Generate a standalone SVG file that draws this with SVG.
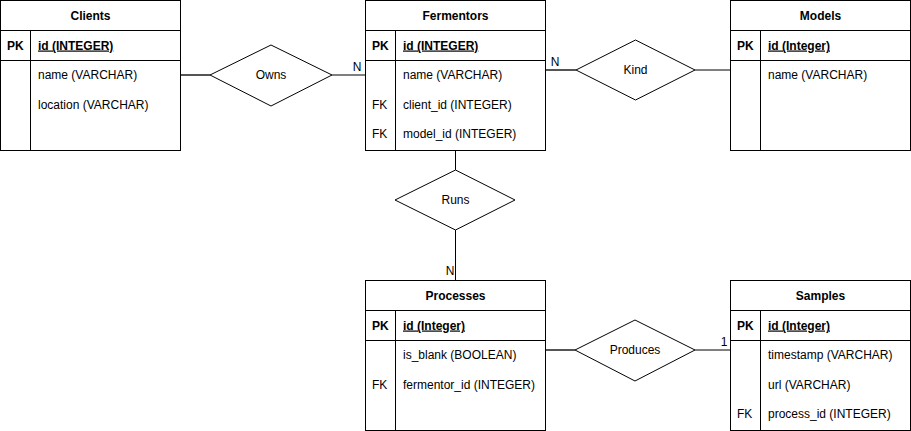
<svg xmlns="http://www.w3.org/2000/svg" width="911" height="431" viewBox="0 0 911 431">
<style>
text{font-family:"Liberation Sans",Arial,sans-serif;font-size:12px;fill:#000}
.t{font-weight:bold;text-anchor:middle}
.pk{font-weight:bold}
.id{font-weight:bold;text-decoration:underline}
.box{fill:#fff;stroke:#000;stroke-width:1}
.ln{stroke:#000;stroke-width:1;fill:none}
.thick{stroke:#555;stroke-width:2;fill:none}
.c{text-anchor:middle}
</style>
<rect width="911" height="431" fill="#fff"/>
<g id="connectors">
<line class="thick" x1="181" y1="75" x2="210" y2="75"/>
<line class="ln" x1="332" y1="75" x2="365" y2="75"/>
<text x="357" y="71" class="c">N</text>
<line class="thick" x1="546" y1="70" x2="576" y2="70"/>
<line class="ln" x1="695" y1="70" x2="730" y2="70"/>
<text x="555" y="66" class="c">N</text>
<line class="ln" x1="455.5" y1="151" x2="455.5" y2="170"/>
<line class="ln" x1="455.5" y1="230" x2="455.5" y2="280"/>
<text x="450" y="275" class="c">N</text>
<line class="thick" x1="546" y1="350" x2="575" y2="350"/>
<line class="ln" x1="695" y1="350" x2="730" y2="350"/>
<text x="724" y="346" class="c">1</text>
</g>
<g id="owns">
<polygon class="box" points="210,75 271,45 332,75 271,106"/>
<text x="271" y="79" class="c">Owns</text>
</g>
<g id="kind">
<polygon class="box" points="576,70 635.5,40 695,70 635.5,100"/>
<text x="635.5" y="74" class="c">Kind</text>
</g>
<g id="runs">
<polygon class="box" points="395,200 455.5,170 515,200 455.5,230"/>
<text x="455.5" y="204" class="c">Runs</text>
</g>
<g id="produces">
<polygon class="box" points="575,350 635,320 695,350 635,381"/>
<text x="635" y="354" class="c">Produces</text>
</g>
<g id="clients">
<rect class="box" x="0.5" y="0.5" width="180" height="150"/>
<line class="ln" x1="0.5" y1="30.5" x2="180.5" y2="30.5"/>
<line class="ln" x1="0.5" y1="60.5" x2="180.5" y2="60.5"/>
<line class="ln" x1="30.5" y1="30.5" x2="30.5" y2="150.5"/>
<text x="90.5" y="19.5" class="t">Clients</text>
<text x="7" y="49.5" class="pk">PK</text>
<text x="38" y="49.5" class="id">id (INTEGER)</text>
<text x="38" y="79">name (VARCHAR)</text>
<text x="38" y="108.5">location (VARCHAR)</text>
</g>
<g id="fermentors">
<rect class="box" x="365.5" y="0.5" width="180" height="150"/>
<line class="ln" x1="365.5" y1="30.5" x2="545.5" y2="30.5"/>
<line class="ln" x1="365.5" y1="60.5" x2="545.5" y2="60.5"/>
<line class="ln" x1="395.5" y1="30.5" x2="395.5" y2="150.5"/>
<text x="455.5" y="19.5" class="t">Fermentors</text>
<text x="372" y="49.5" class="pk">PK</text>
<text x="403" y="49.5" class="id">id (INTEGER)</text>
<text x="403" y="79">name (VARCHAR)</text>
<text x="372" y="108.5">FK</text>
<text x="403" y="108.5">client_id (INTEGER)</text>
<text x="372" y="138">FK</text>
<text x="403" y="138">model_id (INTEGER)</text>
</g>
<g id="models">
<rect class="box" x="730.5" y="0.5" width="180" height="150"/>
<line class="ln" x1="730.5" y1="30.5" x2="910.5" y2="30.5"/>
<line class="ln" x1="730.5" y1="60.5" x2="910.5" y2="60.5"/>
<line class="ln" x1="760.5" y1="30.5" x2="760.5" y2="150.5"/>
<text x="820.5" y="19.5" class="t">Models</text>
<text x="737" y="49.5" class="pk">PK</text>
<text x="768" y="49.5" class="id">id (Integer)</text>
<text x="768" y="79">name (VARCHAR)</text>
</g>
<g id="processes">
<rect class="box" x="365.5" y="280.5" width="180" height="150"/>
<line class="ln" x1="365.5" y1="310.5" x2="545.5" y2="310.5"/>
<line class="ln" x1="365.5" y1="340.5" x2="545.5" y2="340.5"/>
<line class="ln" x1="395.5" y1="310.5" x2="395.5" y2="430.5"/>
<text x="455.5" y="299.5" class="t">Processes</text>
<text x="372" y="329.5" class="pk">PK</text>
<text x="403" y="329.5" class="id">id (Integer)</text>
<text x="403" y="359">is_blank (BOOLEAN)</text>
<text x="372" y="388.5">FK</text>
<text x="403" y="388.5">fermentor_id (INTEGER)</text>
</g>
<g id="samples">
<rect class="box" x="730.5" y="280.5" width="180" height="150"/>
<line class="ln" x1="730.5" y1="310.5" x2="910.5" y2="310.5"/>
<line class="ln" x1="730.5" y1="340.5" x2="910.5" y2="340.5"/>
<line class="ln" x1="760.5" y1="310.5" x2="760.5" y2="430.5"/>
<text x="820.5" y="299.5" class="t">Samples</text>
<text x="737" y="329.5" class="pk">PK</text>
<text x="768" y="329.5" class="id">id (Integer)</text>
<text x="768" y="359">timestamp (VARCHAR)</text>
<text x="768" y="388.5">url (VARCHAR)</text>
<text x="737" y="418">FK</text>
<text x="768" y="418">process_id (INTEGER)</text>
</g>
</svg>
